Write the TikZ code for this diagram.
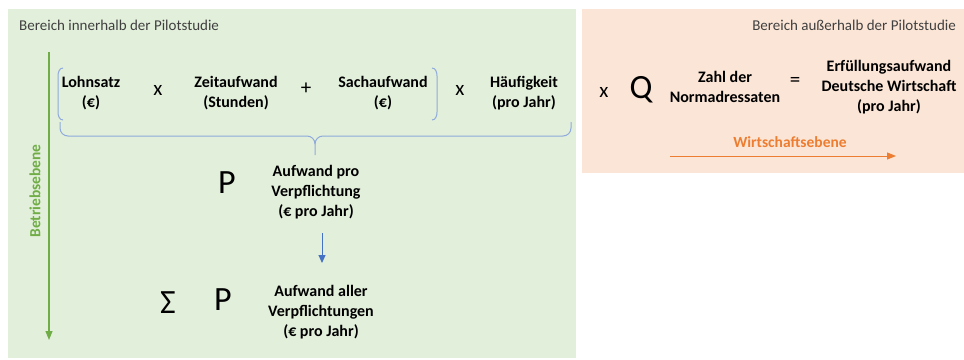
\documentclass[tikz,border=0pt]{standalone}
\usepackage{fontspec}
\setmainfont{Carlito}
\usetikzlibrary{arrows.meta, positioning}

\definecolor{areagreen}{HTML}{E2EFDA}
\definecolor{areaorange}{HTML}{FBE5D6}
\definecolor{levelgreen}{HTML}{70AD47}
\definecolor{levelorange}{HTML}{ED7D31}
\definecolor{parenblue}{HTML}{8FAADC}
\definecolor{arrowblue}{HTML}{4472C4}
\definecolor{titlegray}{HTML}{404040}

\begin{document}
\begin{tikzpicture}[x=1pt, y=-1pt,
    term/.style={font=\fontsize{16}{20}\selectfont\bfseries, align=center, inner sep=0pt},
    op/.style={font=\fontsize{21}{21}\selectfont, inner sep=0pt},
    big/.style={font=\fontsize{34}{34}\selectfont, inner sep=0pt},
    area/.style={font=\fontsize{15}{18}\selectfont, text=titlegray, inner sep=0pt},
    levellabel/.style={font=\fontsize{15.5}{18}\selectfont\bfseries, inner sep=0pt},
    paren/.style={draw=parenblue, line width=1pt},
    level/.style={line width=1.2pt, -{Triangle[length=9pt, width=7pt]}}]
    \useasboundingbox (0,0) rectangle (964,359);

    % Areas
    \fill[areagreen] (8,9) rectangle (576,358);
    \fill[areaorange] (582,9) rectangle (964,173);
    \node[area, anchor=west] (inTitle) at (19,25) {Bereich innerhalb der Pilotstudie};
    \node[area, anchor=east] (outTitle) at (956,25) {Bereich außerhalb der Pilotstudie};

    % Betriebsebene
    \coordinate (bTop) at (49,52);
    \coordinate (bEnd) at (49,340);
    \draw[level, levelgreen] (bTop) -- (bEnd);
    \node[levellabel, text=levelgreen, rotate=90] (bLabel) at (35,191) {Betriebsebene};

    % Formula per obligation
    \node[term] (lohn) at (91,93) {Lohnsatz\\(€)};
    \node[op] (times1) at (158,90) {x};
    \node[term] (zeit) at (236,93) {Zeitaufwand\\(Stunden)};
    \node[op] (plus) at (306,89) {+};
    \node[term] (sach) at (383,93) {Sachaufwand\\(€)};
    \node[op] (times2) at (460,90) {x};
    \node[term] (haeuf) at (524,93) {Häufigkeit\\(pro Jahr)};

    % Parentheses
    \draw[paren] (63,68) to[out=180,in=90] (58,76) -- (58,112) to[out=-90,in=180] (63,120);
    \draw[paren] (432,68) to[out=0,in=90] (437,76) -- (437,112) to[out=-90,in=0] (432,120);

    % Brace
    \draw[paren] (60,122) -- (60,128) to[out=-90,in=180] (68,136) -- (307,136)
        to[out=0,in=90] (315,144) -- (315,155);
    \draw[paren] (571,122) -- (571,128) to[out=-90,in=0] (563,136) -- (323,136)
        to[out=180,in=90] (315,144);

    % Cost per obligation
    \node[big] (pOne) at (227,183) {P};
    \node[term] (perObl) at (316,192) {Aufwand pro\\Verpflichtung\\(€ pro Jahr)};

    \coordinate (sumIn) at (322,233);
    \coordinate (sumOut) at (322,263);
    \draw[arrowblue, line width=1pt, -{Triangle[length=8pt, width=7pt]}] (sumIn) -- (sumOut);

    % Cost of all obligations
    \node[big] (sigma) at (168,303) {Σ};
    \node[big] (pAll) at (223,300) {P};
    \node[term] (allObl) at (321,312) {Aufwand aller\\Verpflichtungen\\(€ pro Jahr)};

    % Wirtschaftsebene
    \node[op] (times3) at (604,92) {x};
    \node[big] (q) at (641,90) {Q};
    \node[term] (zahl) at (725,87) {Zahl der\\Normadressaten};
    \node[op] (equals) at (795,82) {=};
    \node[term] (erf) at (889,87) {Erfüllungsaufwand\\Deutsche Wirtschaft\\(pro Jahr)};

    \node[levellabel, text=levelorange] (wLabel) at (790,142) {Wirtschaftsebene};
    \coordinate (wStart) at (670,156);
    \coordinate (wEnd) at (896,156);
    \draw[levelorange, line width=1pt, -{Triangle[length=9pt, width=7pt]}] (wStart) -- (wEnd);
\end{tikzpicture}
\end{document}
